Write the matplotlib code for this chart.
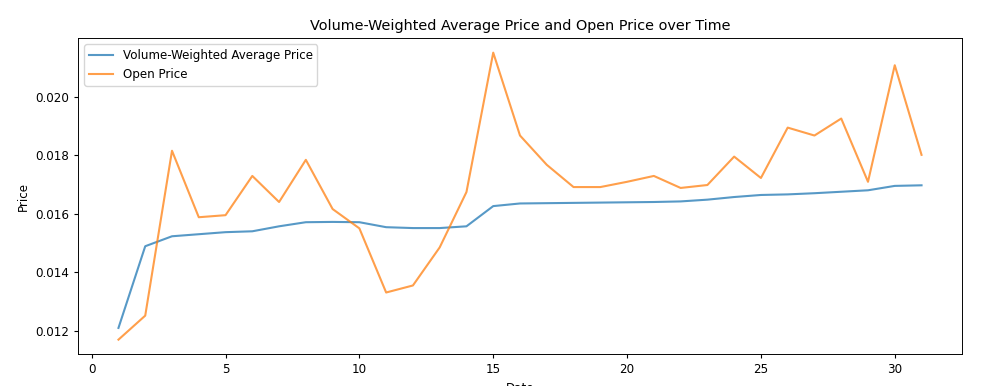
import matplotlib
matplotlib.use("Agg")
import matplotlib.pyplot as plt

# day of month
days = list(range(1, 32))

vwap = [0.01210, 0.01489, 0.01523, 0.01530, 0.01537, 0.01540, 0.01557, 0.01571,
        0.01572, 0.01571, 0.01554, 0.01551, 0.01551, 0.01557, 0.01626, 0.01635,
        0.01636, 0.01637, 0.01638, 0.01639, 0.01640, 0.01642, 0.01648, 0.01657,
        0.01664, 0.01666, 0.01670, 0.01675, 0.01680, 0.01695, 0.01697]

open_price = [0.01170, 0.01252, 0.01815, 0.01588, 0.01595, 0.01729, 0.01640, 0.01784,
              0.01616, 0.01550, 0.01331, 0.01355, 0.01485, 0.01674, 0.02150, 0.01867,
              0.01767, 0.01691, 0.01691, 0.01709, 0.01729, 0.01688, 0.01698, 0.01795,
              0.01722, 0.01894, 0.01867, 0.01925, 0.01709, 0.02107, 0.01801]

# the reference looks like a slightly scaled-down default figure
s = 0.86
plt.rcParams.update({
    "font.size": 10 * s,
    "axes.titlesize": 12 * s,
    "xtick.major.size": 3.5 * s,
    "ytick.major.size": 3.5 * s,
    "axes.linewidth": 0.8 * s,
})

fig = plt.figure(figsize=(9.9, 3.86), dpi=100)
ax = fig.add_axes([0.0791, 0.0829, 0.8923, 0.8179])

ax.plot(days, vwap, label="Volume-Weighted Average Price", alpha=0.75, lw=1.5)
ax.plot(days, open_price, label="Open Price", alpha=0.75, lw=1.5)

ax.set_title("Volume-Weighted Average Price and Open Price over Time")
ax.set_xlabel("Date")
ax.set_ylabel("Price")
ax.legend(loc="upper left")

fig.savefig("out.png", dpi=100)
